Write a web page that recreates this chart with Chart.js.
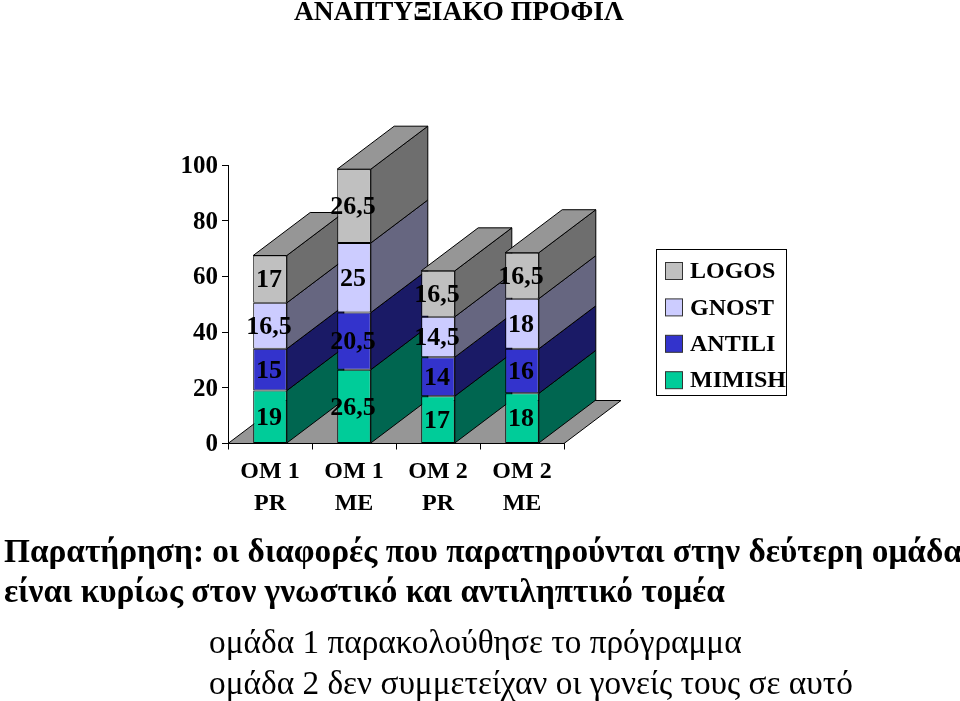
<!DOCTYPE html>
<html lang="el">
<head>
<meta charset="utf-8">
<title>Αναπτυξιακό προφίλ</title>
<script src="https://cdn.jsdelivr.net/npm/chart.js@4"></script>
<style>
  html, body { margin: 0; padding: 0; background: #fff; overflow: hidden; }
  #wrap { position: relative; width: 960px; height: 701px; font-family: "Liberation Serif", serif; color: #000; }
  #grafico { position: absolute; left: 0; top: 0; }
  .texto { position: absolute; white-space: nowrap; line-height: 1; }
  #titulo { left: 294px; top: -3px; font-size: 27.5px; font-weight: bold; }
  #nota1 { left: 4px; top: 534px; font-size: 33.3px; font-weight: bold; }
  #nota2 { left: 4px; top: 574px; font-size: 33.3px; font-weight: bold; }
  #nota3 { left: 209px; top: 625px; font-size: 33.3px; }
  #nota4 { left: 209px; top: 666px; font-size: 33.3px; }
</style>
</head>
<body>
<div id="wrap">
  <canvas id="grafico" width="960" height="701"></canvas>
  <div class="texto" id="titulo">ΑΝΑΠΤΥΞΙΑΚΟ ΠΡΟΦΙΛ</div>
  <div class="texto" id="nota1">Παρατήρηση: οι διαφορές που παρατηρούνται στην δεύτερη ομάδα</div>
  <div class="texto" id="nota2">είναι κυρίως στον γνωστικό και αντιληπτικό τομέα</div>
  <div class="texto" id="nota3">ομάδα 1 παρακολούθησε το πρόγραμμα</div>
  <div class="texto" id="nota4">ομάδα 2 δεν συμμετείχαν οι γονείς τους σε αυτό</div>
</div>
<script>
const categorias = [['OM 1', 'PR'], ['OM 1', 'ME'], ['OM 2', 'PR'], ['OM 2', 'ME']];

const mimish = [19, 26.5, 17, 18];
const antili = [15, 20.5, 14, 16];
const gnost = [16.5, 25, 14.5, 18];
const logos = [17, 26.5, 16.5, 16.5];

const nombres = ['MIMISH', 'ANTILI', 'GNOST', 'LOGOS'];
const series = [mimish, antili, gnost, logos];
const colores = ['#00cc99', '#3333cc', '#ccccff', '#c0c0c0'];
const coloresLado = ['#006650', '#1a1a66', '#666680', '#6e6e6e'];

const fuente = { family: '"Liberation Serif", serif', size: 24, weight: 'bold' };
const fuenteCanvas = 'bold 24px "Liberation Serif", serif';
const fuenteValores = 'bold 26px "Liberation Serif", serif';

// Profundidad del efecto 3D
const profX = 57;
const profY = 43;
const colorPiso = '#969696';

function poligono(ctx, puntos, relleno) {
  ctx.beginPath();
  puntos.forEach((p, i) => (i ? ctx.lineTo(p[0], p[1]) : ctx.moveTo(p[0], p[1])));
  ctx.closePath();
  ctx.fillStyle = relleno;
  ctx.fill();
  ctx.strokeStyle = '#000';
  ctx.lineWidth = 1;
  ctx.stroke();
}

// Piso y caras laterales, por debajo de las barras
const caras3d = {
  id: 'caras3d',
  beforeDatasetsDraw(chart) {
    const ctx = chart.ctx;
    const area = chart.chartArea;
    ctx.save();
    poligono(ctx, [
      [area.left, area.bottom],
      [area.left + profX, area.bottom - profY],
      [area.right + profX, area.bottom - profY],
      [area.right, area.bottom]
    ], colorPiso);

    categorias.forEach((c, j) => {
      series.forEach((s, i) => {
        const barra = chart.getDatasetMeta(i).data[j];
        const der = barra.x + barra.width / 2;
        poligono(ctx, [
          [der, barra.base],
          [der + profX, barra.base - profY],
          [der + profX, barra.y - profY],
          [der, barra.y]
        ], coloresLado[i]);
      });
      const arriba = chart.getDatasetMeta(series.length - 1).data[j];
      const izq = arriba.x - arriba.width / 2;
      const der = arriba.x + arriba.width / 2;
      poligono(ctx, [
        [izq, arriba.y],
        [izq + profX, arriba.y - profY],
        [der + profX, arriba.y - profY],
        [der, arriba.y]
      ], colorPiso);
    });
    ctx.restore();
  }
};

// Valores sobre cada barra, con coma decimal
const etiquetas = {
  id: 'etiquetas',
  afterDatasetsDraw(chart) {
    const ctx = chart.ctx;
    ctx.save();
    ctx.font = fuenteValores;
    ctx.fillStyle = '#000';
    ctx.textAlign = 'center';
    ctx.textBaseline = 'middle';
    series.forEach((s, i) => {
      chart.getDatasetMeta(i).data.forEach((barra, j) => {
        ctx.fillText(String(s[j]).replace('.', ','), barra.x - 1, (barra.y + barra.base) / 2 + 1.5);
      });
    });
    ctx.restore();
  }
};

// Leyenda con marco, LOGOS arriba
const leyenda = {
  id: 'leyenda',
  afterDraw(chart) {
    const ctx = chart.ctx;
    ctx.save();
    ctx.fillStyle = '#fff';
    ctx.strokeStyle = '#000';
    ctx.lineWidth = 1;
    ctx.fillRect(656.5, 249.5, 130, 146);
    ctx.strokeRect(656.5, 249.5, 130, 146);
    ctx.font = fuenteCanvas;
    ctx.textBaseline = 'middle';
    for (let i = 0; i < nombres.length; i++) {
      const y = 271 + (nombres.length - 1 - i) * 36.4;
      ctx.fillStyle = colores[i];
      ctx.strokeStyle = '#333';
      ctx.fillRect(665.5, y - 8.5, 17, 17);
      ctx.strokeRect(665.5, y - 8.5, 17, 17);
      ctx.fillStyle = '#000';
      ctx.fillText(nombres[i], 690, y + 1);
    }
    ctx.restore();
  }
};

new Chart(document.getElementById('grafico'), {
  type: 'bar',
  data: {
    labels: categorias,
    datasets: series.map((s, i) => ({
      label: nombres[i],
      data: s,
      backgroundColor: colores[i],
      borderColor: '#000',
      borderWidth: 1,
      borderSkipped: false,
      categoryPercentage: 1,
      barPercentage: 0.4
    }))
  },
  options: {
    responsive: false,
    animation: false,
    layout: { padding: { left: 168, top: 165, right: 396, bottom: 0 } },
    plugins: { legend: { display: false }, tooltip: { enabled: false } },
    scales: {
      x: {
        stacked: true,
        grid: { drawOnChartArea: false, color: '#000', tickLength: 6, offset: true },
        border: { color: '#000' },
        ticks: { color: '#000', font: { ...fuente, lineHeight: 1.33 }, padding: 6, maxRotation: 0 },
        afterFit(escala) { escala.height = 701 - 443.5; }
      },
      y: {
        stacked: true,
        min: 0,
        max: 100,
        grid: { drawOnChartArea: false, color: '#000', tickLength: 6 },
        border: { color: '#000' },
        ticks: { color: '#000', font: { ...fuente, size: 25 }, stepSize: 20, padding: 4, labelOffset: 1.5 },
        afterFit(escala) { escala.width = 60; }
      }
    }
  },
  plugins: [caras3d, etiquetas, leyenda]
});
</script>
</body>
</html>
